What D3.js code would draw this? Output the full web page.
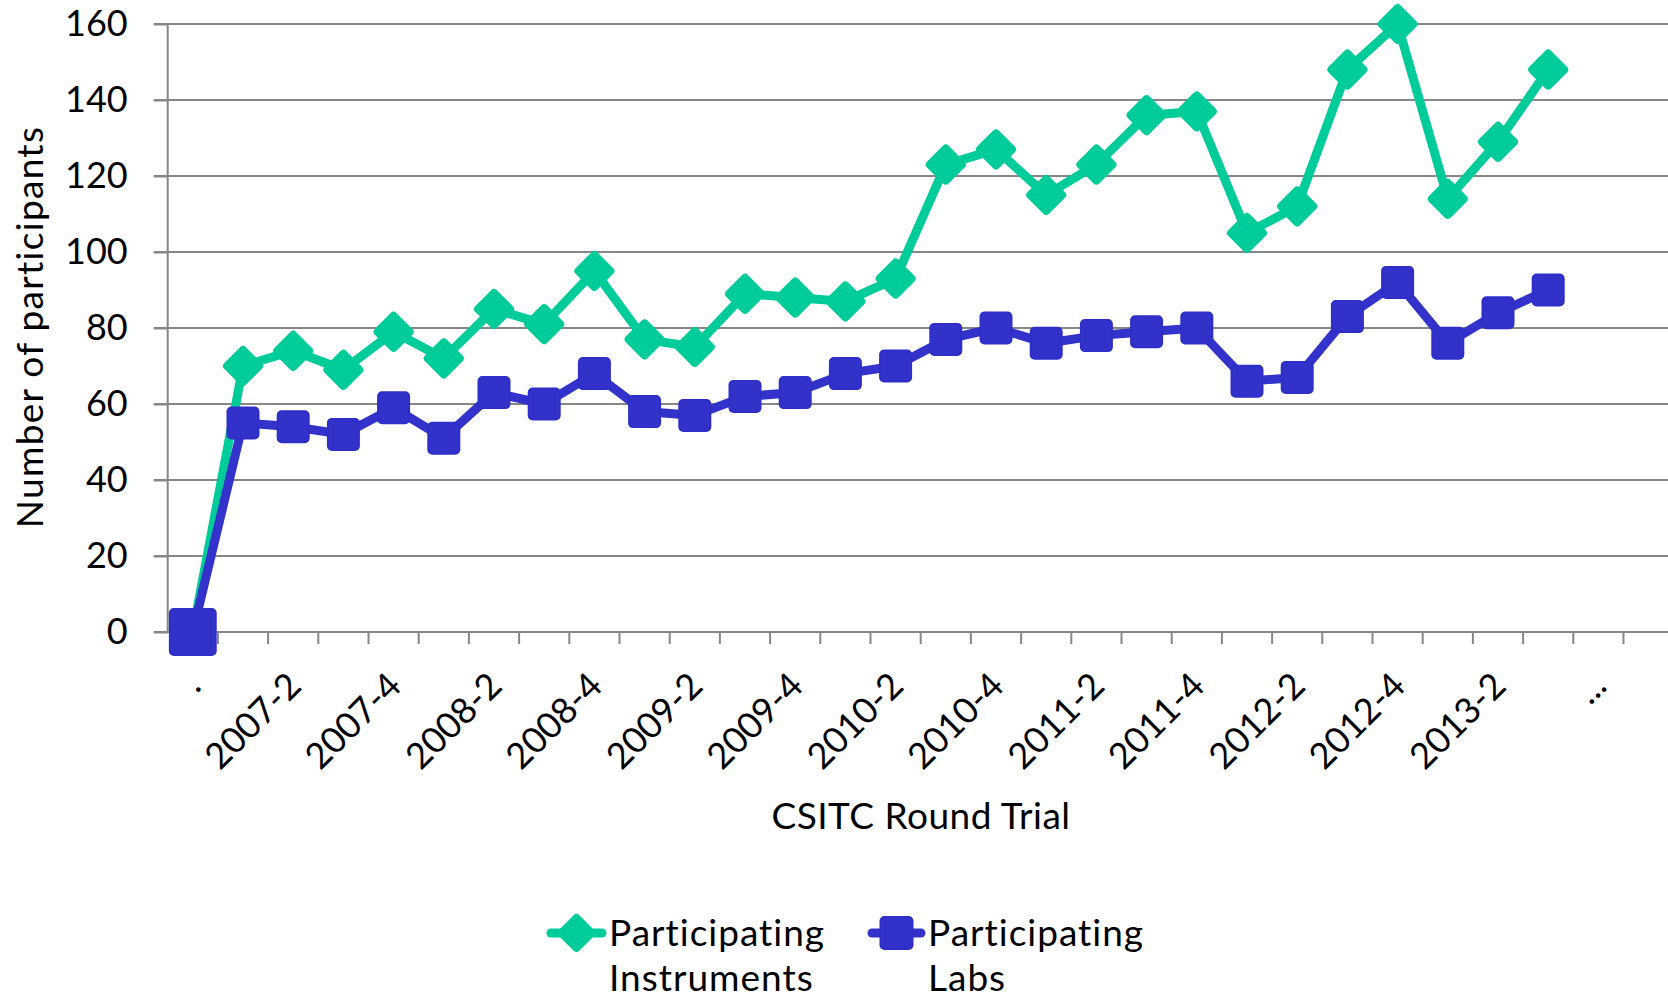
<!DOCTYPE html>
<html>
<head>
<meta charset="utf-8">
<script src="https://cdn.jsdelivr.net/npm/d3@7"></script>
<style>
  html, body { margin: 0; padding: 0; background: #fff; }
  svg { display: block; }
  text { font-family: Lato, "Open Sans", sans-serif; fill: #000; }
</style>
</head>
<body>
<svg id="chart" width="1668" height="1002"></svg>
<script>
// ---- data ----
const categories = [".", "2007-1", "2007-2", "2007-3", "2007-4",
  "2008-1", "2008-2", "2008-3", "2008-4",
  "2009-1", "2009-2", "2009-3", "2009-4",
  "2010-1", "2010-2", "2010-3", "2010-4",
  "2011-1", "2011-2", "2011-3", "2011-4",
  "2012-1", "2012-2", "2012-3", "2012-4",
  "2013-1", "2013-2", "2013-3", "..."];
const instruments = [0, 70, 74, 69, 79, 72, 85, 81, 95, 77, 75, 89, 88, 87, 93,
  123, 127, 115, 123, 136, 137, 105, 112, 148, 160, 114, 129, 148];
const labs = [0, 55, 54, 52, 59, 51, 63, 60, 68, 58, 57, 62, 63, 68, 70,
  77, 80, 76, 78, 79, 80, 66, 67, 83, 92, 76, 84, 90];
const yTicks = [0, 20, 40, 60, 80, 100, 120, 140, 160];
const seriesNames = [["Participating", "Instruments"], ["Participating", "Labs"]];
const xTitle = "CSITC Round Trial";
const yTitle = "Number of participants";

// ---- styles ----
const GREEN = "#00CC99", BLUE = "#3333CC", GRID = "#878787";
const FONT = 36, FONT2 = 37;

const svg = d3.select("#chart");
const x = d3.scaleBand().domain(categories).range([167.7, 1623.5]).paddingInner(0).paddingOuter(0);
const y = d3.scaleLinear().domain([0, 160]).range([632, 24]);
const cx = (i) => x(categories[i]) + x.bandwidth() / 2;

// gridlines
svg.append("g").selectAll("line").data(yTicks).join("line")
  .attr("x1", 154).attr("x2", 1668)
  .attr("y1", d => y(d)).attr("y2", d => y(d))
  .attr("stroke", GRID).attr("stroke-width", 2);

// y axis
const yAxis = svg.append("g").attr("transform", "translate(167.7,0)")
  .call(d3.axisLeft(y).tickValues(yTicks).tickSize(14).tickPadding(26));
yAxis.select(".domain").attr("stroke", GRID).attr("stroke-width", 2)
  .attr("d", `M0,${y(160)}V${y(0)}`);
yAxis.selectAll(".tick line").attr("stroke", GRID).attr("stroke-width", 2);
yAxis.selectAll(".tick text").attr("font-size", FONT).attr("font-family", "Lato").attr("fill", "#000");

// x axis ticks at band boundaries
const bounds = categories.map(c => x(c)).concat([x.range()[1]]);
svg.append("g").selectAll("line").data(bounds.slice(1)).join("line")
  .attr("x1", d => d).attr("x2", d => d)
  .attr("y1", y(0)).attr("y2", y(0) + 12)
  .attr("stroke", GRID).attr("stroke-width", 2);

// x tick labels (every other category)
svg.append("g").selectAll("text")
  .data(categories.map((c, i) => ({c, i})).filter(d => d.i % 2 === 0))
  .join("text")
  .attr("transform", d => `translate(${cx(d.i) + 10},688) rotate(-45)`)
  .attr("text-anchor", "end")
  .attr("font-size", FONT)
  .text(d => d.c);

// lines + markers
const line = d3.line().x((d, i) => cx(i)).y(d => y(d));

function drawSeries(values, color, kind) {
  const g = svg.append("g");
  g.append("path").datum(values).attr("d", line)
    .attr("fill", "none").attr("stroke", color).attr("stroke-width", 9)
    .attr("stroke-linejoin", "round");
  values.forEach((v, i) => {
    if (kind === "diamond") {
      const r = 16 * (i === 0 ? 1.2 : 1);
      g.append("path")
        .attr("d", `M0,${-r}L${r},0L0,${r}L${-r},0Z`)
        .attr("transform", `translate(${cx(i)},${y(v)})`)
        .attr("fill", color).attr("stroke", color).attr("stroke-width", 8)
        .attr("stroke-linejoin", "round");
    } else {
      const w = 33 * (i === 0 ? 1.45 : 1);
      g.append("rect")
        .attr("x", cx(i) - w / 2 + 1).attr("y", y(v) - w / 2 + 1)
        .attr("width", w - 2).attr("height", w - 2).attr("rx", 4)
        .attr("fill", "#3232CA").attr("stroke", "#2E2EC8").attr("stroke-width", 2);
    }
  });
}
drawSeries(instruments, GREEN, "diamond");
drawSeries(labs, BLUE, "square");

// axis titles
svg.append("text").attr("x", 921).attr("y", 829).attr("text-anchor", "middle")
  .attr("font-size", FONT2).attr("letter-spacing", 0.5).text(xTitle);
svg.append("text").attr("transform", "translate(43,327) rotate(-90)")
  .attr("text-anchor", "middle").attr("font-size", FONT2).attr("letter-spacing", 1.3).text(yTitle);

// legend
const legend = [
  {name: seriesNames[0], color: GREEN, kind: "diamond", x0: 547, x1: 606, tx: 609},
  {name: seriesNames[1], color: BLUE, kind: "square", x0: 868, x1: 925, tx: 928}
];
legend.forEach(L => {
  const g = svg.append("g");
  const my = 933, mx = (L.x0 + L.x1) / 2;
  g.append("line").attr("x1", L.x0 + 4).attr("x2", L.x1 - 4).attr("y1", my).attr("y2", my)
    .attr("stroke", L.color).attr("stroke-width", 9).attr("stroke-linecap", "round");
  if (L.kind === "diamond") {
    const r = 15;
    g.append("path").attr("d", `M0,${-r}L${r},0L0,${r}L${-r},0Z`)
      .attr("transform", `translate(${mx},${my})`)
      .attr("fill", L.color).attr("stroke", L.color).attr("stroke-width", 8)
      .attr("stroke-linejoin", "round");
  } else {
    g.append("rect").attr("x", mx - 16).attr("y", my - 16).attr("width", 32).attr("height", 32)
      .attr("rx", 4).attr("fill", "#3232CA").attr("stroke", "#2E2EC8").attr("stroke-width", 2);
  }
  const t = g.append("text").attr("x", L.tx).attr("y", 946)
    .attr("font-size", FONT2).attr("letter-spacing", 1);
  t.append("tspan").attr("x", L.tx).attr("y", 946).text(L.name[0]);
  t.append("tspan").attr("x", L.tx).attr("y", 991).text(L.name[1]);
});
</script>
</body>
</html>
